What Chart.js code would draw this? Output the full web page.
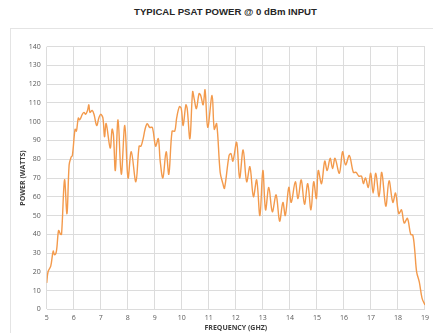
<!DOCTYPE html>
<html>
<head>
<meta charset="utf-8">
<script src="https://cdn.jsdelivr.net/npm/chart.js@4/dist/chart.umd.min.js"></script>
<style>
  html, body { margin: 0; padding: 0; background: #ffffff; }
  body { width: 433px; height: 333px; position: relative; overflow: hidden; }
  #title {
    position: absolute; left: 0; width: 451px; top: 6px;
    text-align: center; font-family: "Liberation Sans", Arial, sans-serif;
    font-weight: bold; font-size: 9.6px; color: #262626;
  }
  #frame {
    position: absolute; left: 10px; top: 28px; width: 440px; height: 320px;
    border: 1px solid #e4e4e4; box-sizing: border-box;
  }
  #wrap { position: absolute; left: 0; top: 0; width: 433px; height: 333px; }
</style>
</head>
<body>
<div id="title">TYPICAL PSAT POWER @ 0 dBm INPUT</div>
<div id="frame"></div>
<div id="wrap"><canvas id="c" width="433" height="333"></canvas></div>
<script>
// Saturated output power versus frequency
const frequencyGHz = [
  5.00, 5.05, 5.15, 5.24, 5.29, 5.36, 5.44, 5.51, 5.55, 5.66, 5.75, 5.83, 5.90, 5.95,
  6.05, 6.10, 6.17, 6.22, 6.32, 6.38, 6.44, 6.51, 6.56, 6.60, 6.68, 6.75, 6.85, 6.93,
  7.00, 7.08, 7.14, 7.20, 7.35, 7.42, 7.47, 7.54, 7.64, 7.76, 7.89, 8.01, 8.13, 8.30,
  8.42, 8.49, 8.57, 8.64, 8.72, 8.81, 8.91, 9.03, 9.13, 9.20, 9.30, 9.42, 9.52, 9.64,
  9.74, 9.81, 9.91, 9.98, 10.05, 10.15, 10.20, 10.30, 10.40, 10.46, 10.54, 10.64, 10.70,
  10.79, 10.86, 10.96, 11.12, 11.20, 11.29, 11.42, 11.52, 11.58, 11.75, 11.82, 11.89,
  12.03, 12.14, 12.27, 12.40, 12.52, 12.65, 12.77, 12.89, 13.00, 13.10, 13.22, 13.35,
  13.49, 13.62, 13.74, 13.83, 13.96, 14.05, 14.20, 14.30, 14.42, 14.54, 14.66, 14.78,
  14.88, 14.98, 15.05, 15.17, 15.29, 15.38, 15.49, 15.58, 15.67, 15.83, 15.95, 16.06,
  16.20, 16.35, 16.45, 16.55, 16.65, 16.72, 16.80, 16.90, 16.99, 17.08, 17.18, 17.30,
  17.40, 17.55, 17.67, 17.81, 17.91, 18.03, 18.13, 18.23, 18.35, 18.47, 18.55, 18.62,
  18.69, 18.79, 18.89, 19.00
];
const powerWatts = [
  14, 20, 23, 31, 29, 31, 42, 40, 40, 69, 51, 77, 81, 82,
  96, 95, 102, 101, 104, 105, 104, 106, 109, 105, 106, 104, 98, 102,
  104, 102, 92, 99, 86, 96, 93, 74, 101, 72, 98, 70, 84, 68,
  87, 87, 91, 96, 99, 97, 97, 87, 91, 79, 70, 84, 72, 95,
  95, 102, 108, 107, 98, 109, 107, 91, 116, 112, 107, 115, 114,
  109, 117, 97, 114, 96, 99, 73, 67, 64.5, 82, 83, 79,
  89, 70, 85, 68, 76, 60, 69, 50, 74, 53, 65, 52,
  61, 47, 57, 50, 65, 57, 68, 59, 69, 56, 67, 53,
  68, 59, 74, 67, 79, 74, 80.5, 75, 80.5, 72.5, 84, 77,
  82, 73, 73, 71, 71, 67, 70, 65, 72.5, 62, 72.5, 60,
  73, 55, 68.5, 57, 62, 51, 53, 46, 48.5, 40, 39.5, 31.5,
  20, 14.5, 6, 2.3
];
const xTicks = [5, 6, 7, 8, 9, 10, 11, 12, 13, 14, 15, 16, 17, 18, 19];
const yTicks = [0, 10, 20, 30, 40, 50, 60, 70, 80, 90, 100, 110, 120, 130, 140];

const points = frequencyGHz.map((f, i) => ({ x: f, y: powerWatts[i] }));
const tickFont = { family: "'Open Sans', 'DejaVu Sans', sans-serif", size: 7 };
const axisTitleFont = { family: "'Open Sans', 'DejaVu Sans', sans-serif", size: 7, weight: 'bold' };
const gridColor = '#dcdcdc';

new Chart(document.getElementById('c'), {
  type: 'line',
  data: {
    datasets: [{
      data: points,
      borderColor: '#F39A4C',
      borderWidth: 1.4,
      pointRadius: 0,
      fill: false,
      tension: 0.35
    }]
  },
  options: {
    responsive: false,
    animation: false,
    layout: { padding: { left: 10, right: 4, top: 46.7, bottom: 0 } },
    plugins: { legend: { display: false }, tooltip: { enabled: false } },
    scales: {
      x: {
        type: 'linear',
        min: 5, max: 19,
        afterBuildTicks: s => { s.ticks = xTicks.map(v => ({ value: v })); },
        afterFit: s => { s.height = 23.7; },
        grid: { color: gridColor, drawTicks: false },
        border: { display: false },
        ticks: { font: tickFont, color: '#595959', padding: 4, maxRotation: 0 },
        title: {
          display: true, text: 'FREQUENCY (GHZ)', font: axisTitleFont,
          color: '#404040', padding: { top: 0, bottom: 1 }
        }
      },
      y: {
        min: 0, max: 140,
        afterBuildTicks: s => { s.ticks = yTicks.map(v => ({ value: v })); },
        afterFit: s => { s.width = 36.7; },
        grid: { color: gridColor, drawTicks: false },
        border: { display: false },
        ticks: { font: tickFont, color: '#595959', padding: 6 },
        title: {
          display: true, text: 'POWER (WATTS)', font: axisTitleFont,
          color: '#404040', padding: { top: 8.8, bottom: 0 }
        }
      }
    }
  }
});
</script>
</body>
</html>
